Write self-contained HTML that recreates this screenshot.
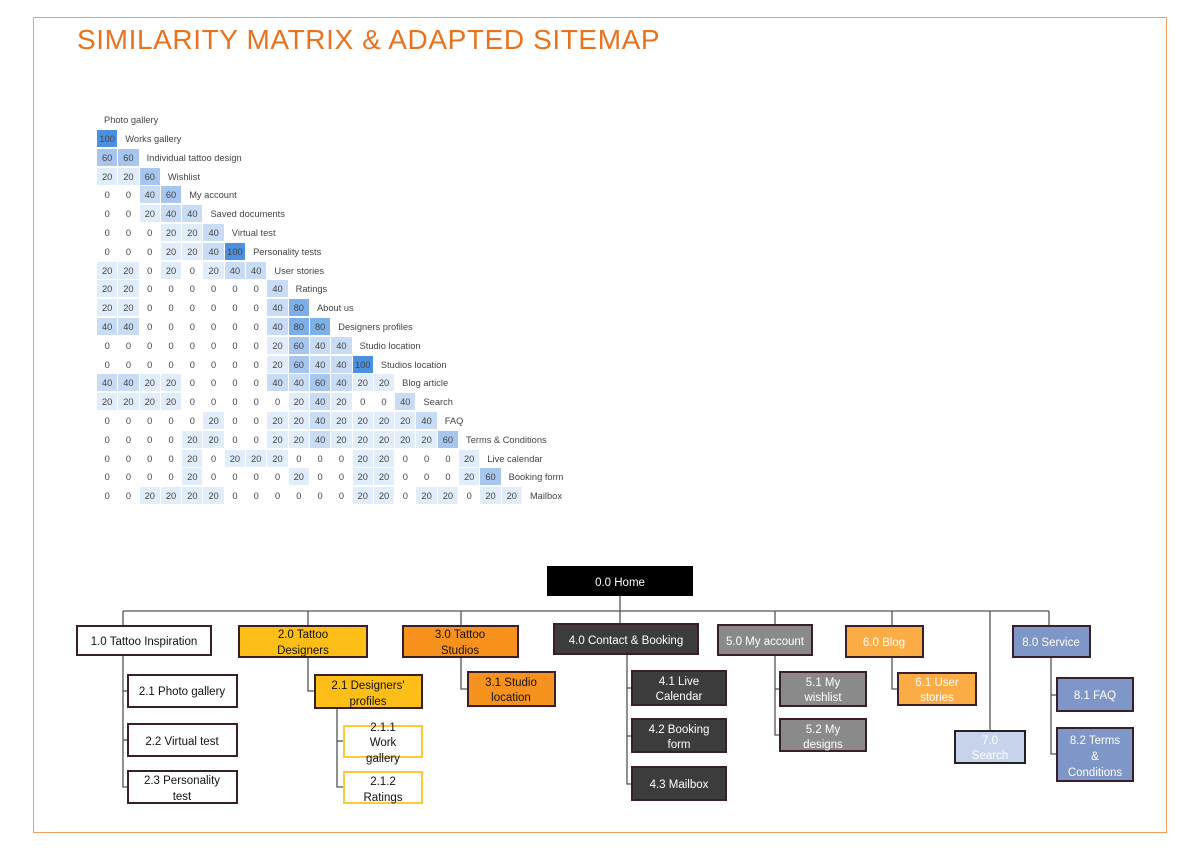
<!DOCTYPE html>
<html><head><meta charset="utf-8"><style>
body{margin:0;width:1200px;height:854px;background:#fff;position:relative;font-family:"Liberation Sans",sans-serif;overflow:hidden}
.frame{position:absolute;left:33px;top:17px;width:1132px;height:814px;border:1px solid #f0a060}
.title{position:absolute;left:77px;top:24px;font-size:28px;color:#e8731f;letter-spacing:0.6px}
.r{position:absolute;left:97px;height:17px;display:flex;align-items:center;font-size:9.3px;color:#444}
.r i{font-style:normal;width:20.3px;height:17px;margin-right:1px;display:flex;align-items:center;justify-content:center}
.r b{font-weight:normal;margin-left:7px;white-space:nowrap}
.a{background:#fff}.b{background:#e2edfb}.c{background:#c8dcf5}.d{background:#a6c6ef}.e{background:#7eb0e8}.f{background:#4c91e0}
svg{position:absolute;left:0;top:0}
svg text{font-family:"Liberation Sans",sans-serif;font-size:11.5px;text-anchor:middle}
</style></head><body>
<div class="frame"></div>
<div class="title">SIMILARITY MATRIX &amp; ADAPTED SITEMAP</div>

<div class="r" style="top:111px;left:104px"><b style="margin-left:0">Photo gallery</b></div>
<div class="r" style="top:130px"><i class="f">100</i><b>Works gallery</b></div>
<div class="r" style="top:149px"><i class="d">60</i><i class="d">60</i><b>Individual tattoo design</b></div>
<div class="r" style="top:168px"><i class="b">20</i><i class="b">20</i><i class="d">60</i><b>Wishlist</b></div>
<div class="r" style="top:186px"><i class="a">0</i><i class="a">0</i><i class="c">40</i><i class="d">60</i><b>My account</b></div>
<div class="r" style="top:205px"><i class="a">0</i><i class="a">0</i><i class="b">20</i><i class="c">40</i><i class="c">40</i><b>Saved documents</b></div>
<div class="r" style="top:224px"><i class="a">0</i><i class="a">0</i><i class="a">0</i><i class="b">20</i><i class="b">20</i><i class="c">40</i><b>Virtual test</b></div>
<div class="r" style="top:243px"><i class="a">0</i><i class="a">0</i><i class="a">0</i><i class="b">20</i><i class="b">20</i><i class="c">40</i><i class="f">100</i><b>Personality tests</b></div>
<div class="r" style="top:262px"><i class="b">20</i><i class="b">20</i><i class="a">0</i><i class="b">20</i><i class="a">0</i><i class="b">20</i><i class="c">40</i><i class="c">40</i><b>User stories</b></div>
<div class="r" style="top:280px"><i class="b">20</i><i class="b">20</i><i class="a">0</i><i class="a">0</i><i class="a">0</i><i class="a">0</i><i class="a">0</i><i class="a">0</i><i class="c">40</i><b>Ratings</b></div>
<div class="r" style="top:299px"><i class="b">20</i><i class="b">20</i><i class="a">0</i><i class="a">0</i><i class="a">0</i><i class="a">0</i><i class="a">0</i><i class="a">0</i><i class="c">40</i><i class="e">80</i><b>About us</b></div>
<div class="r" style="top:318px"><i class="c">40</i><i class="c">40</i><i class="a">0</i><i class="a">0</i><i class="a">0</i><i class="a">0</i><i class="a">0</i><i class="a">0</i><i class="c">40</i><i class="e">80</i><i class="e">80</i><b>Designers profiles</b></div>
<div class="r" style="top:337px"><i class="a">0</i><i class="a">0</i><i class="a">0</i><i class="a">0</i><i class="a">0</i><i class="a">0</i><i class="a">0</i><i class="a">0</i><i class="b">20</i><i class="d">60</i><i class="c">40</i><i class="c">40</i><b>Studio location</b></div>
<div class="r" style="top:356px"><i class="a">0</i><i class="a">0</i><i class="a">0</i><i class="a">0</i><i class="a">0</i><i class="a">0</i><i class="a">0</i><i class="a">0</i><i class="b">20</i><i class="d">60</i><i class="c">40</i><i class="c">40</i><i class="f">100</i><b>Studios location</b></div>
<div class="r" style="top:374px"><i class="c">40</i><i class="c">40</i><i class="b">20</i><i class="b">20</i><i class="a">0</i><i class="a">0</i><i class="a">0</i><i class="a">0</i><i class="c">40</i><i class="c">40</i><i class="d">60</i><i class="c">40</i><i class="b">20</i><i class="b">20</i><b>Blog article</b></div>
<div class="r" style="top:393px"><i class="b">20</i><i class="b">20</i><i class="b">20</i><i class="b">20</i><i class="a">0</i><i class="a">0</i><i class="a">0</i><i class="a">0</i><i class="a">0</i><i class="b">20</i><i class="c">40</i><i class="b">20</i><i class="a">0</i><i class="a">0</i><i class="c">40</i><b>Search</b></div>
<div class="r" style="top:412px"><i class="a">0</i><i class="a">0</i><i class="a">0</i><i class="a">0</i><i class="a">0</i><i class="b">20</i><i class="a">0</i><i class="a">0</i><i class="b">20</i><i class="b">20</i><i class="c">40</i><i class="b">20</i><i class="b">20</i><i class="b">20</i><i class="b">20</i><i class="c">40</i><b>FAQ</b></div>
<div class="r" style="top:431px"><i class="a">0</i><i class="a">0</i><i class="a">0</i><i class="a">0</i><i class="b">20</i><i class="b">20</i><i class="a">0</i><i class="a">0</i><i class="b">20</i><i class="b">20</i><i class="c">40</i><i class="b">20</i><i class="b">20</i><i class="b">20</i><i class="b">20</i><i class="b">20</i><i class="d">60</i><b>Terms &amp; Conditions</b></div>
<div class="r" style="top:450px"><i class="a">0</i><i class="a">0</i><i class="a">0</i><i class="a">0</i><i class="b">20</i><i class="a">0</i><i class="b">20</i><i class="b">20</i><i class="b">20</i><i class="a">0</i><i class="a">0</i><i class="a">0</i><i class="b">20</i><i class="b">20</i><i class="a">0</i><i class="a">0</i><i class="a">0</i><i class="b">20</i><b>Live calendar</b></div>
<div class="r" style="top:468px"><i class="a">0</i><i class="a">0</i><i class="a">0</i><i class="a">0</i><i class="b">20</i><i class="a">0</i><i class="a">0</i><i class="a">0</i><i class="a">0</i><i class="b">20</i><i class="a">0</i><i class="a">0</i><i class="b">20</i><i class="b">20</i><i class="a">0</i><i class="a">0</i><i class="a">0</i><i class="b">20</i><i class="d">60</i><b>Booking form</b></div>
<div class="r" style="top:487px"><i class="a">0</i><i class="a">0</i><i class="b">20</i><i class="b">20</i><i class="b">20</i><i class="b">20</i><i class="a">0</i><i class="a">0</i><i class="a">0</i><i class="a">0</i><i class="a">0</i><i class="a">0</i><i class="b">20</i><i class="b">20</i><i class="a">0</i><i class="b">20</i><i class="b">20</i><i class="a">0</i><i class="b">20</i><i class="b">20</i><b>Mailbox</b></div>

<svg width="1200" height="854" viewBox="0 0 1200 854">
<g stroke="#555" stroke-width="1.3" fill="none">
<line x1="620" y1="595" x2="620" y2="624"/>
<line x1="123" y1="611" x2="1049" y2="611"/>
<line x1="123" y1="611" x2="123" y2="626"/><line x1="308" y1="611" x2="308" y2="626"/>
<line x1="461" y1="611" x2="461" y2="626"/><line x1="775" y1="611" x2="775" y2="625"/>
<line x1="892" y1="611" x2="892" y2="626"/><line x1="990" y1="611" x2="990" y2="731"/>
<line x1="1049" y1="611" x2="1049" y2="626"/>
<polyline points="123,655 123,787 128,787"/><line x1="123" y1="691" x2="128" y2="691"/><line x1="123" y1="740" x2="128" y2="740"/>
<polyline points="308,657 308,691 315,691"/>
<polyline points="337,708 337,787 344,787"/><line x1="337" y1="741" x2="344" y2="741"/>
<polyline points="461,657 461,689 468,689"/>
<polyline points="627,654 627,784 632,784"/><line x1="627" y1="688" x2="632" y2="688"/><line x1="627" y1="736" x2="632" y2="736"/>
<polyline points="775,655 775,735 780,735"/><line x1="775" y1="689" x2="780" y2="689"/>
<polyline points="892,657 892,689 898,689"/>
<polyline points="1051,657 1051,754 1057,754"/><line x1="1051" y1="695" x2="1057" y2="695"/>
</g>
<g stroke-width="2" stroke="#3a1f2a">
<rect x="548" y="567" width="144" height="28" fill="#000" stroke="#000"/>
<rect x="77" y="626" width="134" height="29" fill="#fff"/>
<rect x="239" y="626" width="128" height="31" fill="#fdbf17"/>
<rect x="403" y="626" width="115" height="31" fill="#f7921e"/>
<rect x="554" y="624" width="144" height="30" fill="#3c3c3c"/>
<rect x="718" y="625" width="94" height="30" fill="#8a8a8a"/>
<rect x="846" y="626" width="77" height="31" fill="#fbac45"/>
<rect x="1013" y="626" width="77" height="31" fill="#7f96c8"/>
<rect x="128" y="675" width="109" height="32" fill="#fff"/>
<rect x="128" y="724" width="109" height="32" fill="#fff"/>
<rect x="128" y="771" width="109" height="32" fill="#fff"/>
<rect x="315" y="675" width="107" height="33" fill="#fdbf17"/>
<rect x="344" y="726" width="78" height="31" fill="#fff" stroke="#fcc93a"/>
<rect x="344" y="772" width="78" height="31" fill="#fff" stroke="#fcc93a"/>
<rect x="468" y="672" width="87" height="34" fill="#f7921e"/>
<rect x="632" y="671" width="94" height="34" fill="#3c3c3c"/>
<rect x="632" y="719" width="94" height="33" fill="#3c3c3c"/>
<rect x="632" y="767" width="94" height="33" fill="#3c3c3c"/>
<rect x="780" y="672" width="86" height="34" fill="#8a8a8a"/>
<rect x="780" y="719" width="86" height="32" fill="#8a8a8a"/>
<rect x="898" y="673" width="78" height="32" fill="#fbac45"/>
<rect x="955" y="731" width="70" height="32" fill="#c7d3ea" stroke="#222"/>
<rect x="1057" y="678" width="76" height="33" fill="#7f96c8"/>
<rect x="1057" y="728" width="76" height="53" fill="#7f96c8"/>
</g>
<g fill="#111">
<text x="620" y="586" fill="#fff">0.0 Home</text>
<text x="144" y="645">1.0 Tattoo Inspiration</text>
<text x="303" y="638">2.0 Tattoo</text><text x="303" y="654">Designers</text>
<text x="460" y="638">3.0 Tattoo</text><text x="460" y="654">Studios</text>
<text x="626" y="644" fill="#fff">4.0 Contact &amp; Booking</text>
<text x="765" y="645" fill="#fff">5.0 My account</text>
<text x="884" y="646" fill="#fff">6.0 Blog</text>
<text x="1051" y="646" fill="#fff">8.0 Service</text>
<text x="182" y="695">2.1 Photo gallery</text>
<text x="182" y="745">2.2 Virtual test</text>
<text x="182" y="784">2.3 Personality</text><text x="182" y="800">test</text>
<text x="368" y="689">2.1 Designers'</text><text x="368" y="705">profiles</text>
<text x="383" y="731">2.1.1</text><text x="383" y="746">Work</text><text x="383" y="762">gallery</text>
<text x="383" y="785">2.1.2</text><text x="383" y="801">Ratings</text>
<text x="511" y="686">3.1 Studio</text><text x="511" y="701">location</text>
<text x="679" y="685" fill="#fff">4.1 Live</text><text x="679" y="700" fill="#fff">Calendar</text>
<text x="679" y="733" fill="#fff">4.2 Booking</text><text x="679" y="748" fill="#fff">form</text>
<text x="679" y="788" fill="#fff">4.3 Mailbox</text>
<text x="823" y="686" fill="#fff">5.1 My</text><text x="823" y="701" fill="#fff">wishlist</text>
<text x="823" y="733" fill="#fff">5.2 My</text><text x="823" y="748" fill="#fff">designs</text>
<text x="937" y="686" fill="#fff">6.1 User</text><text x="937" y="701" fill="#fff">stories</text>
<text x="990" y="744" fill="#fff">7.0</text><text x="990" y="759" fill="#fff">Search</text>
<text x="1095" y="699" fill="#fff">8.1 FAQ</text>
<text x="1095" y="744" fill="#fff">8.2 Terms</text><text x="1095" y="760" fill="#fff">&amp;</text><text x="1095" y="776" fill="#fff">Conditions</text>
</g>
</svg>
</body></html>
